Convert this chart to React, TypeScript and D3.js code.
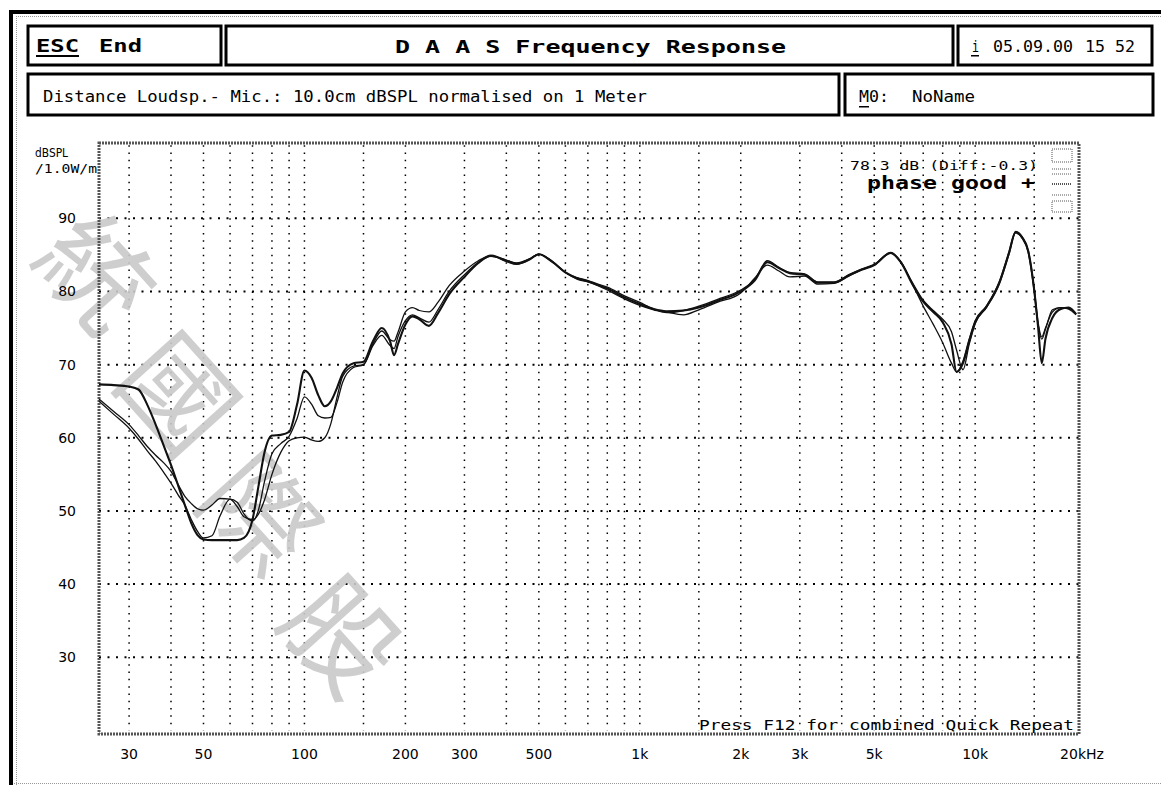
import { useEffect, useRef } from "react";
import * as d3 from "d3";

const freqs = [
  24.4, 27, 30, 32, 34, 36, 38, 40, 42, 44, 46, 48, 50, 53, 56, 60, 63, 66, 70, 73, 76, 80, 85, 90, 95,
  100, 105, 110, 115, 120, 125, 130, 140, 150, 160, 170, 180, 185, 190, 200, 210, 220, 235, 250, 270,
  300, 330, 360, 400, 430, 470, 500, 550, 600, 650, 700, 750, 800, 900, 1000, 1100, 1200, 1350, 1500,
  1700, 2000, 2200, 2400, 2600, 2800, 3100, 3400, 3800, 4200, 4600, 5000, 5600, 6000, 6500, 7000, 7500,
  8000, 8500, 8800, 9200, 9600, 10000, 10800, 11800, 12600, 13200, 13800, 14400, 15000, 15400, 15800,
  16200, 17000, 18000, 19000, 20000,
];
const seriesA = [
  67.3, 67.2, 67.0, 66.6, 64.5, 61.8, 59.0, 56.3, 53.5, 50.8, 48.3, 46.7, 46.1, 46.0, 46.0, 46.0, 46.0, 46.3,
  48.8, 53.5, 58.0, 60.3, 60.4, 60.8, 64.5, 69.2, 68.2, 65.8, 64.3, 65.0, 66.8, 68.8, 70.2, 70.4, 73.2, 75.0,
  73.2, 71.3, 72.8, 75.5, 76.6, 76.2, 75.3, 77.0, 79.6, 82.0, 83.9, 84.9, 84.2, 83.8, 84.4, 85.1, 84.0, 82.6,
  81.8, 81.4, 80.9, 80.4, 79.2, 78.3, 77.6, 77.3, 77.4, 77.8, 78.7, 80.0, 81.5, 84.0, 83.2, 82.5, 82.3, 81.2,
  81.2, 82.2, 83.0, 83.6, 85.3, 84.0, 81.0, 78.6, 77.2, 75.8, 72.8, 69.0, 70.2, 73.2, 75.8, 77.9, 81.2, 85.2,
  88.1, 87.4, 85.5, 80.2, 75.2, 70.2, 73.5, 76.4, 77.6, 77.8, 76.9,
];
const seriesB = [
  65.3, 63.6, 61.8, 60.3, 58.8, 57.6, 56.6, 55.4, 53.6, 52.0, 51.0, 50.3, 50.1, 50.8, 51.7, 51.6, 50.6, 49.2,
  48.8, 49.6, 51.5, 55.0, 58.0, 59.6, 60.0, 60.1, 59.7, 59.5, 60.0, 62.0, 65.5, 68.4, 69.8, 70.0, 72.6, 74.0,
  72.6, 72.2, 73.8, 76.0, 76.8, 76.4, 75.8, 77.5, 80.0, 82.3, 84.0, 84.8, 84.3, 83.9, 84.5, 85.1, 84.1, 82.6,
  81.9, 81.5, 81.0, 80.6, 79.4, 78.5, 77.6, 77.2, 76.8, 77.5, 78.5, 79.8, 81.8, 83.6, 82.8, 82.0, 82.1, 81.0,
  81.1, 82.1, 83.0, 83.6, 85.2, 84.0, 81.2, 78.8, 77.4, 76.2, 74.5, 72.0, 69.3, 72.8, 75.6, 77.8, 81.0, 85.0,
  88.0, 87.3, 85.3, 80.0, 75.5, 73.5, 74.8, 77.5, 77.8, 77.6, 76.8,
];
const seriesC = [
  65.0, 63.2, 61.3, 59.8, 58.2, 56.8, 55.3, 53.8, 52.2, 50.8, 48.8, 47.2, 46.3, 46.6, 49.3, 51.6, 51.2, 49.6,
  48.6, 50.2, 54.0, 57.8, 59.2, 60.2, 62.6, 65.6, 64.6, 63.0, 62.7, 62.8, 64.8, 67.6, 69.6, 70.0, 72.8, 74.6,
  73.4, 73.2, 74.4, 77.2, 77.8, 77.4, 77.2, 78.5, 80.8, 82.8, 84.2, 84.9, 84.1, 83.7, 84.4, 85.1, 84.0, 82.6,
  81.7, 81.3, 80.8, 80.2, 79.0, 78.1, 77.5, 77.1, 77.4, 78.0, 78.9, 80.2, 81.6, 84.2, 83.3, 82.6, 82.4, 81.3,
  81.3, 82.3, 83.1, 83.7, 85.3, 84.1, 81.0, 78.0, 75.5, 73.0, 70.2, 69.0, 70.5, 73.5, 76.0, 78.0, 81.3, 85.3,
  88.2, 87.5, 85.6, 80.4, 75.8, 73.8, 75.0, 77.2, 77.8, 77.7, 76.9,
];

const yTicks = [30, 40, 50, 60, 70, 80, 90];
const gridFreqs = [
  30, 40, 50, 60, 70, 80, 90, 100, 150, 200, 300, 400, 500, 600, 700, 800, 900, 1000, 1500, 2000, 3000,
  4000, 5000, 6000, 7000, 8000, 9000, 10000, 15000,
];
const xLabelFreqs = [30, 50, 100, 200, 300, 500, 1000, 2000, 3000, 5000, 10000, 20000];
const xLabelText = ["30", "50", "100", "200", "300", "500", "1k", "2k", "3k", "5k", "10k", "20kHz"];
const watermark = ["統", "國", "際", "股"];

const App = () => {
  const svgRef = useRef<SVGSVGElement>(null);

  useEffect(() => {
    document.body.style.margin = "0";
    const svg = d3.select(svgRef.current);
    svg.selectAll("*").remove();

    const W = 1161, H = 785;
    const L = 99, R = 1079, T = 143, B = 734;
    const mono = "'DejaVu Sans Mono', monospace";
    const sans = "'DejaVu Sans', sans-serif";

    const x = d3.scaleLog().domain([24.4, 20400]).range([L, R]);
    const y = d3.scaleLinear().domain([19.5, 100.3]).range([B, T]);

    svg.append("rect").attr("width", W).attr("height", H).attr("fill", "#fff");

    // outer frame
    svg.append("rect").attr("x", 9).attr("y", 10).attr("width", 4).attr("height", H - 10).attr("fill", "#000");
    svg.append("rect").attr("x", 9).attr("y", 10).attr("width", W - 9).attr("height", 4).attr("fill", "#000");
    const thin = [
      [16, 16.5, W, 16.5],
      [16.5, 16, 16.5, H],
      [14, 783.5, W, 783.5],
    ];
    thin.forEach(([x1, y1, x2, y2]) =>
      svg.append("line").attr("x1", x1).attr("y1", y1).attr("x2", x2).attr("y2", y2)
        .attr("stroke", "#999").attr("stroke-width", 1).attr("stroke-dasharray", "1,1")
    );

    // header boxes
    const boxes = [
      [28, 26, 193, 39],
      [226, 26, 727, 39],
      [958, 26, 194, 39],
      [28, 74, 811, 41],
      [845, 74, 308, 41],
    ];
    boxes.forEach(([bx, by, bw, bh]) =>
      svg.append("rect").attr("x", bx).attr("y", by).attr("width", bw).attr("height", bh)
        .attr("fill", "none").attr("stroke", "#000").attr("stroke-width", 3)
    );

    const text = (tx: number, ty: number, s: string, size: number, opts: any = {}) => {
      const t = svg.append("text").attr("x", tx).attr("y", ty).text(s)
        .attr("font-family", opts.family || mono).attr("font-size", size)
        .attr("font-weight", opts.bold ? "bold" : "normal")
        .attr("fill", opts.fill || "#000")
        .attr("text-anchor", opts.anchor || "start");
      if (opts.len) t.attr("textLength", opts.len).attr("lengthAdjust", "spacingAndGlyphs");
      return t;
    };

    text(36, 52, "ESC", 17, { bold: true, len: 43 });
    svg.append("rect").attr("x", 36).attr("y", 55).attr("width", 43).attr("height", 2).attr("fill", "#000");
    text(99, 52, "End", 17, { bold: true, len: 43 });
    text(395, 53, "D A A S  Frequency Response", 17, { bold: true, len: 391 });
    text(972, 52, "i", 15, { len: 7 });
    svg.append("rect").attr("x", 971).attr("y", 55).attr("width", 8).attr("height", 1.5).attr("fill", "#000");
    text(993, 52, "05.09.00", 15, { len: 80 });
    text(1085, 52, "15 52", 15, { len: 50 });
    text(43, 102, "Distance Loudsp.- Mic.: 10.0cm dBSPL normalised on 1 Meter", 15, { len: 604 });
    text(859, 102, "M0:", 15, { len: 30 });
    svg.append("rect").attr("x", 859).attr("y", 106).attr("width", 10).attr("height", 1.5).attr("fill", "#000");
    text(912, 102, "NoName", 15, { len: 63 });

    // grid
    const grid = svg.append("g");
    yTicks.forEach((v) =>
      grid.append("line").attr("x1", L).attr("x2", R).attr("y1", y(v)).attr("y2", y(v))
        .attr("stroke", "#000").attr("stroke-width", 2).attr("stroke-dasharray", "2,6.5")
    );
    gridFreqs.forEach((f) =>
      grid.append("line").attr("x1", x(f)).attr("x2", x(f)).attr("y1", y(100)).attr("y2", y(20))
        .attr("stroke", "#000").attr("stroke-width", 1.5)
        .attr("stroke-dasharray", `1.5,${(y(99) - y(100) - 1.5).toFixed(2)}`)
    );

    // watermark
    const ang = (56 * Math.PI) / 180;
    watermark.forEach((c, i) => {
      const px = 102 + (i * 146) * Math.cos(ang);
      const py = 268 + (i * 146) * Math.sin(ang);
      svg.append("text").attr("transform", `translate(${px},${py}) rotate(48)`)
        .attr("text-anchor", "middle").attr("dominant-baseline", "central")
        .attr("font-family", "'Noto Sans CJK TC', sans-serif").attr("font-size", 110)
        .attr("fill", "#c9c9c9").attr("fill-opacity", 0.9).text(c);
    });

    // plot frame
    svg.append("rect").attr("x", L).attr("y", T).attr("width", R - L).attr("height", B - T)
      .attr("fill", "none").attr("stroke", "#555").attr("stroke-width", 3).attr("stroke-dasharray", "2,1");

    // curves
    const line = d3.line<number>()
      .x((_, i) => x(freqs[i]))
      .y((d) => y(d))
      .curve(d3.curveMonotoneX);
    [
      { d: seriesB, w: 1.3 },
      { d: seriesC, w: 1.3 },
      { d: seriesA, w: 2.1 },
    ].forEach((s) =>
      svg.append("path").attr("d", line(s.d)).attr("fill", "none")
        .attr("stroke", "#111").attr("stroke-width", s.w).attr("stroke-linejoin", "round")
    );

    // axis labels
    text(35, 157, "dBSPL", 13, { family: sans, len: 33 });
    text(35, 173, "/1.0W/m", 13, { family: mono, len: 62 });
    yTicks.forEach((v) => text(76, y(v) + 5, String(v), 14, { family: sans, anchor: "end" }));
    xLabelFreqs.forEach((f, i) => {
      const s = xLabelText[i];
      if (s.endsWith("Hz")) text(x(f) - 16, 759, s, 14, { family: sans });
      else text(x(f), 759, s, 14, { family: sans, anchor: "middle" });
    });

    // annotations
    text(850, 170, "78.3 dB (Diff:-0.3)", 13, { len: 188 });
    text(867, 189, "phase good +", 17, { bold: true, len: 168 });
    text(699, 730, "Press F12 for combined Quick Repeat", 14, { len: 375 });

    // little legend marks
    const lg = svg.append("g").attr("fill", "none").attr("stroke", "#555").attr("stroke-width", 1)
      .attr("stroke-dasharray", "1,1");
    lg.append("rect").attr("x", 1052).attr("y", 149).attr("width", 20).attr("height", 13);
    lg.append("line").attr("x1", 1052).attr("x2", 1072).attr("y1", 169).attr("y2", 169);
    lg.append("line").attr("x1", 1052).attr("x2", 1072).attr("y1", 174).attr("y2", 174);
    lg.append("line").attr("x1", 1052).attr("x2", 1072).attr("y1", 184).attr("y2", 184).attr("stroke-width", 2);
    lg.append("line").attr("x1", 1052).attr("x2", 1072).attr("y1", 195).attr("y2", 195);
    lg.append("rect").attr("x", 1052).attr("y", 201).attr("width", 20).attr("height", 11);
  }, []);

  return <svg ref={svgRef} width={1161} height={785} style={{ display: "block" }} />;
};

export default App;
